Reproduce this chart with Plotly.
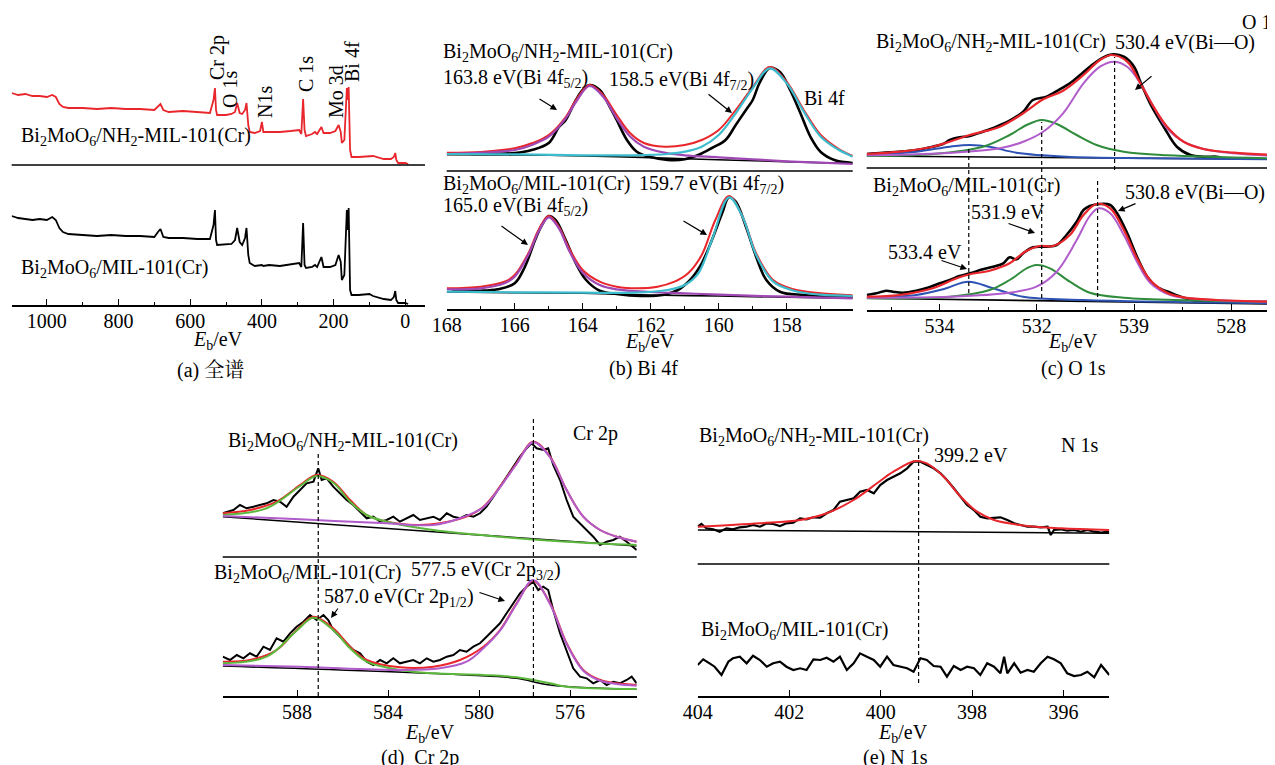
import plotly.graph_objects as go

# ======================= DATA =======================
# (a) survey spectra
survey_ev = [1098, 1080, 1060, 1040, 1020, 1000, 985, 975, 965, 955, 940, 900, 860, 820, 780, 740, 700,
             690, 683, 675, 660, 620, 580, 545, 535, 531, 528, 525, 500, 485, 475, 469, 462, 455, 447,
             443, 438, 434, 420, 405, 400, 396, 380, 350, 320, 296, 290, 285, 281, 277, 260, 252, 246,
             234, 228, 210, 195, 186, 180, 177, 170, 163, 160, 158, 154, 150, 130, 100, 90, 60, 40, 32,
             28, 25, 20, 0, -8]
survey_nh2 = [72, 70, 71, 69, 69, 68, 70, 68, 61, 58, 57, 57, 56, 57, 56, 56, 55,
              59, 61, 55, 53, 54, 53, 52, 65, 77, 55, 50, 50, 51, 53, 62, 52, 51, 55,
              62, 40, 33, 32, 34, 43, 33, 33, 33, 34, 35, 31, 66, 35, 29, 31, 33, 31,
              38, 32, 32, 34, 40, 33, 22, 25, 77, 65, 78, 15, 8, 8, 9, 9, 6, 6, 8,
              12, 5, 2, 2, 1]
survey_mil = [89, 87, 86, 85, 86, 85, 88, 85, 77, 73, 71, 70, 69, 70, 69, 69, 68,
              73, 76, 68, 67, 67, 66, 66, 80, 95, 65, 60, 61, 61, 65, 77, 63, 60, 67,
              77, 50, 42, 39, 40, 40, 39, 40, 39, 41, 42, 38, 82, 40, 37, 38, 40, 38,
              48, 38, 38, 40, 50, 43, 25, 30, 95, 75, 97, 15, 10, 10, 11, 9, 6, 5, 8,
              14, 5, 2, 2, 1]
survey_peaks = ["Cr 2p", "O 1s", "N1s", "C 1s", "Mo 3d", "Bi 4f"]

# (b) Bi 4f  -- NH2 sample (upper)
bi_nh2_ev = [167.85, 167, 166, 165.5, 165, 164.7, 164.5, 164.2, 164, 163.8, 163.5, 163.2, 163, 162.7,
             162.4, 162, 161.5, 161, 160.6, 160.2, 159.8, 159.5, 159.2, 159, 158.8, 158.5, 158.2,
             157.9, 157.6, 157.3, 157, 156.6, 156.06]
bi_nh2_raw = [18.7, 18, 19, 22, 29, 45, 52, 72, 82, 87, 82, 65, 52, 32, 20, 15, 12, 12.7, 17, 24, 32,
              47, 62, 72, 89, 104, 100, 82, 59, 35, 20, 12, 9]
bi_nh2_fit_ev = [168, 167, 166, 165.5, 165, 164.5, 164.2, 163.8, 163.4, 163, 162.6, 162.2, 161.6, 161,
                 160.5, 160, 159.5, 159, 158.5, 158, 157.5, 157, 156.5, 156.06]
bi_nh2_fit = [19.3, 20, 23.7, 28.7, 37, 55, 72, 87, 77, 57, 38.7, 29, 25.3, 27, 32, 42, 62, 85, 105,
              90, 62, 37, 23.7, 16]
bi_nh2_52_ev = [168, 166, 165.5, 165, 164.5, 164.2, 163.8, 163.4, 163, 162.6, 162.2, 161.6, 161, 160,
                159, 158, 157, 156.06]
bi_nh2_52 = [18, 22, 27, 35.3, 53.7, 70, 86, 75.3, 53.7, 35.3, 25.3, 19.3, 16.7, 14.7, 12.7, 10.7,
             9.3, 8]
bi_nh2_72_ev = [168, 166, 164, 162.5, 161.5, 161, 160.5, 160, 159.5, 159, 158.5, 158, 157.5, 157,
                156.5, 156.06]
bi_nh2_72 = [18, 17.7, 16.7, 16.7, 18, 20.3, 25.3, 37, 58.7, 83.7, 103.7, 88.7, 60.3, 35.3, 22.7, 15.3]
bi_nh2_bg_ev = [168, 165, 163, 161, 159, 157, 156.06]
bi_nh2_bg = [17.3, 16.7, 15.3, 13.3, 11.3, 9.3, 8.7]

# (b) Bi 4f  -- MIL sample (lower)
bi_mil_ev = [167.85, 167, 166.5, 166, 165.7, 165.4, 165.2, 165, 164.8, 164.5, 164.2, 163.9, 163.5,
             163, 162.3, 161.6, 161.2, 160.8, 160.5, 160.2, 159.9, 159.7, 159.5, 159.2, 158.9,
             158.6, 158.2, 157.5, 156.06]
bi_mil_raw = [12, 11.3, 12.7, 18.7, 35.3, 62, 77, 86, 82, 62, 38.7, 22, 11.3, 8, 6, 7.3, 12, 23.7,
              38.7, 62, 88.7, 104.7, 100.3, 75.3, 45.3, 22, 10.3, 7, 5.3]
bi_mil_fit_ev = [168, 167, 166.3, 166, 165.6, 165.3, 165, 164.7, 164.4, 164, 163.5, 163, 162.4,
                 161.8, 161.3, 160.9, 160.5, 160.1, 159.7, 159.3, 158.9, 158.4, 157.8, 157, 156.06]
bi_mil_fit = [13.7, 15.3, 20.3, 27, 48.7, 72, 86, 75.3, 53.7, 32, 20.3, 15.3, 13.7, 15.3, 20.3, 28.7,
              47, 82, 106, 85.3, 48.7, 22, 12.7, 8.7, 6.7]
bi_mil_52_ev = [168, 167, 166.3, 166, 165.6, 165.3, 165, 164.7, 164.4, 164, 163.5, 163, 162, 161,
                160, 158, 156.06]
bi_mil_52 = [12.7, 13.7, 18.7, 25.3, 47, 70.3, 84.7, 73.7, 51.3, 29.3, 17, 12.7, 10, 8.7, 7.3, 5.3, 3.7]
bi_mil_72_ev = [168, 166, 164, 162.5, 161.5, 161, 160.6, 160.2, 159.7, 159.3, 158.9, 158.4, 157.8,
                157, 156.06]
bi_mil_72 = [10.3, 9.7, 9.3, 9.3, 12, 17, 28.7, 62, 104.7, 85.3, 47, 20.3, 11.3, 7.3, 6]
bi_mil_bg_ev = [168, 164, 162, 160, 158, 156.06]
bi_mil_bg = [10, 8.7, 7, 6, 4.7, 3.7]

# (c) O 1s -- NH2 sample (upper)
o_nh2_ev = [535.5, 535.17, 534.82, 534.48, 534.14, 533.93, 533.79, 533.59, 533.38, 533.11, 532.83,
            532.56, 532.28, 532.08, 531.80, 531.53, 531.32, 531.11, 530.91, 530.63, 530.42, 530.21,
            530.00, 529.87, 529.67, 529.39, 529.12, 528.84, 528.57, 528.30, 528.23]
o_nh2_raw = [14, 15.3, 16.3, 18, 21.3, 24, 28, 30.7, 32, 36.3, 41.3, 47.3, 56.3, 68, 71.3, 78.7,
             84.7, 93, 101.3, 110.7, 113.7, 111.3, 101.3, 86.3, 64.7, 41.3, 21.3, 13, 11.3, 11.3, 10.7]
o_nh2_fit_ev = [535.5, 534.82, 534.14, 533.38, 532.76, 532.28, 531.87, 531.46, 531.04, 530.70,
                530.46, 530.14, 529.87, 529.60, 529.32, 528.98, 528.57, 527.95, 527.1]
o_nh2_fit = [14, 16.3, 21.3, 33, 41.3, 54.7, 68.7, 77.3, 93, 108, 113, 106.3, 84.7, 61.3, 41.3, 26.3,
             19, 15.3, 13]
o_nh2_bio_ev = [535.5, 534.48, 533.45, 532.76, 532.28, 531.87, 531.46, 531.04, 530.70, 530.42,
                530.14, 529.87, 529.60, 529.32, 528.98, 528.57, 527.95, 527.1]
o_nh2_bio = [12.7, 13.7, 16.3, 19.7, 26.3, 36.3, 54.7, 84.7, 101.3, 106.3, 101.3, 84.7, 61.3, 39.7,
             26.3, 19, 14.7, 12]
o_nh2_oh_ev = [535.5, 534.14, 533.11, 532.56, 532.21, 531.90, 531.59, 531.18, 530.77, 530.21,
               529.32, 527.1]
o_nh2_oh = [12, 14, 21.3, 33, 43, 48, 44, 33, 23, 16.3, 12.7, 9.7]
o_nh2_h2o_ev = [535.5, 534.48, 533.79, 533.38, 532.97, 532.42, 531.39, 529.67, 527.1]
o_nh2_h2o = [13, 16.3, 21.3, 23, 21.3, 15.3, 11.3, 9.7, 8.7]
o_nh2_bg_ev = [535.5, 527.1]
o_nh2_bg = [12, 8.7]

# (c) O 1s -- MIL sample (lower)
o_mil_ev = [535.5, 535.30, 535.10, 534.96, 534.76, 534.48, 534.21, 534.00, 533.79, 533.59, 533.38,
            533.11, 532.90, 532.69, 532.56, 532.42, 532.28, 532.08, 531.80, 531.59, 531.39, 531.18,
            531.04, 530.91, 530.70, 530.49, 530.35, 530.14, 529.94, 529.73, 529.53, 529.25, 528.98,
            528.64, 528.36]
o_mil_raw = [15, 16.7, 19.3, 18.3, 17.3, 19.3, 22.7, 26.7, 30, 34, 36.7, 40.7, 43.3, 46.7, 52.7,
             50.7, 56.7, 62.7, 63.3, 65, 75, 88.3, 100, 104, 106, 105, 96.7, 76.7, 53.3, 33.3, 23.3,
             17.3, 12.3, 8.3, 8.3]
o_mil_fit_ev = [535.5, 534.82, 534.14, 533.65, 533.38, 532.97, 532.56, 532.21, 531.94, 531.66,
                531.32, 531.04, 530.77, 530.49, 530.21, 529.94, 529.67, 529.32, 528.98, 528.30, 527.1]
o_mil_fit = [13.3, 15, 21.7, 31.7, 35.7, 39.3, 46.7, 59.3, 64, 64, 75, 95, 106, 101.7, 80, 51.7, 30,
             17.3, 12.7, 10, 8.3]
o_mil_bio_ev = [535.5, 533.79, 532.56, 532.01, 531.59, 531.18, 530.91, 530.73, 530.49, 530.21,
                529.94, 529.67, 529.25, 528.64, 527.1]
o_mil_bio = [12.3, 13.3, 17.3, 23.3, 38.3, 70, 94, 101.7, 96.7, 75, 48.3, 27.3, 15, 10.7, 8.3]
o_mil_oh_ev = [535.5, 533.79, 532.97, 532.56, 532.21, 532.01, 531.73, 531.32, 530.91, 530.21, 527.1]
o_mil_oh = [11.7, 13.3, 20, 30, 41.7, 45, 41.7, 28.3, 17.3, 12.3, 8.3]
o_mil_h2o_ev = [535.5, 534.48, 533.93, 533.41, 532.90, 532.28, 531.04, 527.1]
o_mil_h2o = [12.3, 15, 20.7, 28.3, 21.7, 13.3, 10, 6.7]
o_mil_bg_ev = [535.5, 527.1]
o_mil_bg = [11.7, 6]
o_dash_nh2 = [530.4]
o_dash_mil = [533.4, 531.9, 530.75]

# (d) Cr 2p -- NH2 sample (upper)
cr_nh2_ev = [591.27, 590.80, 590.51, 590.22, 589.92, 589.63, 589.34, 589.04, 588.75, 588.46,
             588.16, 587.87, 587.58, 587.28, 587.07, 586.92, 586.70, 586.41, 586.11, 585.82,
             585.53, 585.23, 584.94, 584.65, 584.35, 584.06, 583.77, 583.48, 583.18, 582.89,
             582.60, 582.30, 582.01, 581.72, 581.42, 581.13, 580.84, 580.55, 580.25, 579.96,
             579.67, 579.37, 579.08, 578.79, 578.49, 578.20, 577.91, 577.69, 577.47, 577.18,
             576.96, 576.74, 576.44, 576.15, 575.86, 575.56, 575.27, 574.98, 574.68, 574.39,
             574.10, 573.81, 573.51, 573.22, 573.07]
cr_nh2_raw = [43.7, 47, 52, 48.7, 50.3, 52, 53.7, 57, 55.3, 50.3,
              60.3, 67, 73.7, 75.3, 88.7, 77, 78.7, 70.3, 63.7, 57,
              52, 45.3, 38.7, 40.3, 35.3, 37, 40.3, 35.3, 38.7, 42,
              37, 38.7, 40.3, 37, 43.7, 40.3, 38.7, 42, 40.3, 43.7,
              50.3, 60.3, 70.3, 80.3, 90.3, 100.3, 108.7, 113.7, 108.7, 107,
              108.7, 92, 77, 57, 40.3, 33.7, 27, 20.3, 12, 15.3,
              17, 20.3, 15.3, 10.3, 7]
cr_nh2_fit_ev = [591.27, 590.07, 588.90, 587.87, 587.14, 586.41, 585.67, 584.94, 584.06, 582.74,
                 581.72, 580.55, 579.81, 579.08, 578.35, 577.62, 576.88, 576.15, 575.42, 574.68,
                 573.95, 573.07]
cr_nh2_fit = [43.7, 47, 55.3, 72, 82, 75.3, 57, 42, 35.3, 32, 33.7, 40.3, 50.3, 70.3, 93.7, 115.3,
              100.3, 67, 40.3, 27, 20.3, 15.3]
cr_nh2_12_ev = [591.27, 589.34, 587.87, 587.14, 586.41, 585.67, 584.94, 584.06, 582.01, 579.08,
                576.15, 573.07]
cr_nh2_12 = [42, 48.7, 71, 81, 74.3, 55.3, 42, 35.3, 27, 20.3, 15.3, 12]
cr_nh2_32_ev = [591.27, 587.87, 584.06, 582.01, 580.84, 579.81, 579.08, 578.35, 577.62, 576.88,
                576.15, 575.42, 574.68, 573.95, 573.07]
cr_nh2_32 = [41, 37.7, 33.7, 32, 38.7, 49.7, 69.7, 93, 114.7, 99.7, 67, 40.3, 27, 20.3, 15.3]
cr_nh2_bg_ev = [591.27, 582.01, 573.07]
cr_nh2_bg = [40.3, 25.3, 11]

# (d) Cr 2p -- MIL sample (lower)
cr_mil_ev = [591.27, 590.95, 590.65, 590.36, 590.07, 589.78, 589.48, 589.19, 588.90, 588.60,
             588.31, 588.02, 587.72, 587.43, 587.14, 586.84, 586.63, 586.41, 586.11, 585.82,
             585.53, 585.23, 584.94, 584.65, 584.35, 584.06, 583.77, 583.48, 583.18, 582.89,
             582.60, 582.30, 582.01, 581.72, 581.42, 581.13, 580.84, 580.55, 580.25, 579.96,
             579.67, 579.37, 579.08, 578.79, 578.49, 578.20, 577.91, 577.62, 577.40, 577.18,
             576.96, 576.74, 576.44, 576.15, 575.86, 575.56, 575.27, 574.98, 574.68, 574.39,
             574.10, 573.81, 573.51, 573.29, 573.07]
cr_mil_raw = [38.3, 35, 40, 36.7, 41.7, 38.3, 48.3, 45, 56.7, 53.3,
              61.7, 68.3, 73.3, 80, 75, 80, 75, 65, 58.3, 51.7,
              45, 41.7, 33.3, 30, 35, 31.7, 36.7, 31.7, 33.3, 35,
              31.7, 36.7, 33.3, 35, 38.3, 40, 45, 43.3, 48.3, 51.7,
              58.3, 65, 71.7, 81.7, 91.7, 101.7, 108.3, 113.3, 105, 108.3,
              105, 85, 61.7, 45, 26.7, 18.3, 16.7, 11.7, 15, 10,
              13.3, 11.7, 15, 18.3, 11.7]
cr_mil_fit_ev = [591.27, 590.07, 588.90, 588.02, 587.28, 586.41, 585.67, 584.94, 583.48, 582.01,
                 580.84, 579.81, 579.08, 578.35, 577.62, 576.88, 576.15, 575.42, 574.68, 573.95,
                 573.07]
cr_mil_fit = [33.3, 35, 45, 65, 78.3, 66.7, 48.3, 35, 27.7, 28.3, 35, 48.3, 65, 91.7, 114.3, 91.7,
              51.7, 25, 15, 11.7, 10]
cr_mil_12_ev = [591.27, 589.34, 588.02, 587.28, 586.41, 585.67, 584.94, 583.48, 582.01, 579.81,
                578.35, 576.88, 576.15, 573.07]
cr_mil_12 = [31.7, 38.3, 64.3, 77.3, 65, 46.7, 33.3, 25, 21.7, 20, 17.7, 11.7, 8.3, 6]
cr_mil_32_ev = [591.27, 587.87, 583.48, 581.72, 580.55, 579.81, 579.08, 578.35, 577.62, 576.88,
                576.15, 575.42, 574.68, 573.95, 573.07]
cr_mil_32 = [30, 28.3, 25, 26.7, 33.3, 46.7, 64.3, 91, 115, 91, 51, 24.3, 14.3, 11, 9.3]
cr_mil_bg_ev = [591.27, 580.55, 578.35, 576.88, 573.07]
cr_mil_bg = [29, 20, 16.7, 10, 5.7]
cr_dash = [587.07, 577.61]

# (e) N 1s
n_nh2_ev = [404.0, 403.92, 403.81, 403.66, 403.52, 403.37, 403.23, 403.08, 402.93, 402.79,
            402.64, 402.49, 402.35, 402.20, 402.06, 401.91, 401.76, 401.62, 401.47, 401.32,
            401.18, 401.03, 400.89, 400.74, 400.59, 400.45, 400.30, 400.15, 400.01, 399.86,
            399.72, 399.57, 399.42, 399.28, 399.13, 398.99, 398.84, 398.69, 398.55, 398.40,
            398.25, 398.11, 397.96, 397.82, 397.67, 397.52, 397.38, 397.23, 397.08, 396.94,
            396.79, 396.65, 396.50, 396.35, 396.28, 396.21, 396.06, 395.92, 395.77, 395.62,
            395.48, 395.33, 395.18, 395.0]
n_nh2_raw = [37.3, 40, 35.7, 34.7, 32.3, 35.7, 34.7, 36.7, 37.3, 39,
             37.3, 40.7, 40, 38, 40.7, 41.3, 45.7, 44.7, 46.7, 46.3,
             50.7, 54, 62.3, 64, 65.7, 72.3, 74, 70.7, 79, 84,
             87.3, 90.7, 95.7, 102.3, 102.3, 99, 95.7, 90.7, 84, 75.7,
             67.3, 59, 54, 47.3, 45.7, 46.3, 46.7, 44, 40.7, 39,
             37.3, 37.3, 36.7, 37.3, 29, 34, 34.7, 33.3, 34, 32.3,
             34, 32.3, 31.3, 32.3]
n_nh2_fit_ev = [404.0, 402.64, 401.76, 401.18, 400.59, 400.08, 399.72, 399.24, 398.99, 398.62,
                398.25, 397.89, 397.52, 396.79, 396.06, 395.0]
n_nh2_fit = [37.3, 40.7, 44, 50.7, 64, 80.7, 92.3, 103, 100.7, 87.3, 67.3, 52.3, 44, 38, 35.7, 34]
n_nh2_bg_ev = [404.0, 395.0]
n_nh2_bg = [34, 30.7]
n_mil_ev = [404.0, 403.88, 403.74, 403.63, 403.48, 403.33, 403.23, 403.08, 402.93, 402.79,
            402.64, 402.49, 402.35, 402.20, 402.06, 401.91, 401.76, 401.62, 401.47, 401.32,
            401.18, 401.03, 400.89, 400.74, 400.59, 400.45, 400.30, 400.15, 400.01, 399.86,
            399.72, 399.57, 399.42, 399.28, 399.13, 398.99, 398.84, 398.69, 398.55, 398.40,
            398.25, 398.11, 397.96, 397.82, 397.67, 397.52, 397.38, 397.30, 397.23, 397.08,
            396.94, 396.79, 396.65, 396.50, 396.35, 396.21, 396.06, 395.92, 395.77, 395.62,
            395.48, 395.33, 395.18, 395.0]
n_mil_raw = [30, 35.7, 31.7, 28.3, 20, 33.3, 36.7, 38.3, 31.7, 39.3,
             35, 28.3, 31.7, 33.3, 28.3, 25, 26.7, 25, 35.7, 35,
             37.3, 33.3, 38.3, 25, 31.7, 41.7, 38.3, 35, 28.3, 38.3,
             30, 28.3, 26.7, 23.3, 36.7, 35, 29, 28.3, 18.3, 29,
             25, 28.3, 26.7, 20, 31.7, 28.3, 21.7, 38.3, 21.7, 31.7,
             22.3, 25, 23.3, 31.7, 38.3, 35.7, 31.7, 21.7, 19, 20,
             23.3, 17.7, 30, 20]
n_dash = [399.17]

# tick labels
ticks_a = [1000, 800, 600, 400, 200, 0]
ticks_b = [168, 166, 164, 162, 160, 158]
ticks_c = [534, 532, 530, 528]
ticklabels_c = ["534", "532", "539", "528"]
ticks_d = [588, 584, 580, 576]
ticks_e = [404, 402, 400, 398, 396]

S_NH2 = "Bi<sub>2</sub>MoO<sub>6</sub>/NH<sub>2</sub>-MIL-101(Cr)"
S_MIL = "Bi<sub>2</sub>MoO<sub>6</sub>/MIL-101(Cr)"
EB = "<i>E</i><sub>b</sub>/eV"

# ======================= FIGURE =======================
# the page body has an 8px margin; all positions below are given in window pixels
OFF = 8
W, H = 1275 - OFF, 765 - OFF
FONT = "Liberation Serif, Noto Serif CJK SC, Noto Sans CJK SC, serif"
FS = 20

RED = "#e8262b"
MAG = "#9f47b3"
CYAN = "#3cbccc"
PURP = "#b15ccb"
GREEN_C = "#2f8c3c"
BLUE = "#2d52b3"
GREEN_D = "#5cb83c"

fig = go.Figure()


def add(x, y, xa, ya, color, width=2.0, shape="spline"):
    fig.add_trace(go.Scatter(
        x=x, y=y, xaxis=xa, yaxis=ya, mode="lines",
        line=dict(color=color, width=width, shape=shape,
                  smoothing=1.0 if shape == "spline" else None),
        hoverinfo="skip", showlegend=False))


# (a)
add(survey_ev, survey_nh2, "x", "y2", RED, 1.8, "linear")
add(survey_ev, survey_mil, "x", "y", "black", 1.8, "linear")

# (b)
add(bi_nh2_bg_ev, bi_nh2_bg, "x2", "y4", "black", 1.6)
add(bi_nh2_ev, bi_nh2_raw, "x2", "y4", "black", 2.6)
add(bi_nh2_fit_ev, bi_nh2_fit, "x2", "y4", RED, 2.0)
add(bi_nh2_52_ev, bi_nh2_52, "x2", "y4", MAG, 2.2)
add(bi_nh2_72_ev, bi_nh2_72, "x2", "y4", CYAN, 2.2)
add(bi_mil_bg_ev, bi_mil_bg, "x2", "y3", "black", 1.6)
add(bi_mil_ev, bi_mil_raw, "x2", "y3", "black", 2.6)
add(bi_mil_fit_ev, bi_mil_fit, "x2", "y3", RED, 2.0)
add(bi_mil_52_ev, bi_mil_52, "x2", "y3", MAG, 2.2)
add(bi_mil_72_ev, bi_mil_72, "x2", "y3", CYAN, 2.2)

# (c)
add(o_nh2_bg_ev, o_nh2_bg, "x3", "y6", "black", 1.6)
add(o_nh2_ev, o_nh2_raw, "x3", "y6", "black", 2.6)
add(o_nh2_h2o_ev, o_nh2_h2o, "x3", "y6", BLUE, 2.0)
add(o_nh2_oh_ev, o_nh2_oh, "x3", "y6", GREEN_C, 2.0)
add(o_nh2_bio_ev, o_nh2_bio, "x3", "y6", PURP, 2.0)
add(o_nh2_fit_ev, o_nh2_fit, "x3", "y6", RED, 2.2)
add(o_mil_bg_ev, o_mil_bg, "x3", "y5", "black", 1.6)
add(o_mil_ev, o_mil_raw, "x3", "y5", "black", 2.6)
add(o_mil_h2o_ev, o_mil_h2o, "x3", "y5", BLUE, 2.0)
add(o_mil_oh_ev, o_mil_oh, "x3", "y5", GREEN_C, 2.0)
add(o_mil_bio_ev, o_mil_bio, "x3", "y5", PURP, 2.0)
add(o_mil_fit_ev, o_mil_fit, "x3", "y5", RED, 2.2)

# (d)
add(cr_nh2_bg_ev, cr_nh2_bg, "x4", "y8", "black", 1.6)
add(cr_nh2_ev, cr_nh2_raw, "x4", "y8", "black", 2.0, "linear")
add(cr_nh2_fit_ev, cr_nh2_fit, "x4", "y8", RED, 2.0)
add(cr_nh2_12_ev, cr_nh2_12, "x4", "y8", GREEN_D, 2.0)
add(cr_nh2_32_ev, cr_nh2_32, "x4", "y8", PURP, 2.0)
add(cr_mil_bg_ev, cr_mil_bg, "x4", "y7", "black", 1.6)
add(cr_mil_ev, cr_mil_raw, "x4", "y7", "black", 2.0, "linear")
add(cr_mil_fit_ev, cr_mil_fit, "x4", "y7", RED, 2.0)
add(cr_mil_12_ev, cr_mil_12, "x4", "y7", GREEN_D, 2.0)
add(cr_mil_32_ev, cr_mil_32, "x4", "y7", PURP, 2.0)

# (e)
add(n_nh2_bg_ev, n_nh2_bg, "x5", "y10", "black", 1.6)
add(n_nh2_ev, n_nh2_raw, "x5", "y10", "black", 2.2, "linear")
add(n_nh2_fit_ev, n_nh2_fit, "x5", "y10", RED, 2.0)
add(n_mil_ev, n_mil_raw, "x5", "y9", "black", 2.2, "linear")


# ---------------- axes ----------------
def fx(p):
    return (p - OFF) / W


def fy(p):
    return 1 - (p - OFF) / H


def xdom(p0, p1):
    return [max(fx(p0), 0.0), min(fx(p1), 1.0)]


def ydom(bottom, top):
    return [fy(bottom), fy(top)]


def xax(dom, rng, tv, tt=None, minor=None, anchor="y"):
    d = dict(domain=dom, range=rng, anchor=anchor, showline=True, linecolor="black",
             linewidth=1.5, showgrid=False, zeroline=False, ticks="inside", ticklen=6,
             tickwidth=1.3, tickcolor="black", tickmode="array", tickvals=tv,
             ticktext=tt if tt else [str(v) for v in tv], ticklabelstandoff=-3,
             automargin=False,
             tickfont=dict(family=FONT, size=FS, color="black"), fixedrange=True)
    if minor:
        d["minor"] = dict(tickmode="array", tickvals=minor, ticks="inside", ticklen=3,
                          tickwidth=1.2, tickcolor="black")
    return d


def yax(dom, rng, anchor):
    return dict(domain=dom, range=rng, anchor=anchor, visible=False, fixedrange=True,
                automargin=False)


layout = dict(
    width=W, height=H, margin=dict(l=0, r=0, t=0, b=0, pad=0, autoexpand=False), autosize=False,
    paper_bgcolor="white", plot_bgcolor="white", showlegend=False,
    xaxis=xax(xdom(11.7, 425), [1098, -55], ticks_a, minor=[900, 700, 500, 300, 100], anchor="y"),
    yaxis=yax(ydom(305, 165), [0, 140], "x"),
    yaxis2=yax(ydom(165, 25), [0, 140], "x"),
    xaxis2=xax(xdom(446.7, 852.7), [168, 156.06], ticks_b,
               minor=[167, 165, 163, 161, 159, 157], anchor="y3"),
    yaxis3=yax(ydom(309, 171), [-7, 131], "x2"),
    yaxis4=yax(ydom(171, 31), [1, 141], "x2"),
    xaxis3=xax(xdom(866.7, 1275), [535.5, 527.1], ticks_c, ticklabels_c,
               minor=[535, 533, 531, 529], anchor="y5"),
    yaxis5=yax(ydom(310, 168), [0, 142], "x3"),
    yaxis6=yax(ydom(168, 28), [0, 140], "x3"),
    xaxis4=xax(xdom(222.7, 636.7), [591.27, 573.07], ticks_d, anchor="y7"),
    yaxis7=yax(ydom(696, 557), [-1, 138], "x4"),
    yaxis8=yax(ydom(557, 417), [0, 140], "x4"),
    xaxis5=xax(xdom(697.7, 1109.3), [404.0, 395.0], ticks_e, anchor="y9"),
    yaxis9=yax(ydom(696, 564), [-1, 131], "x5"),
    yaxis10=yax(ydom(564, 424), [0, 140], "x5"),
)
fig.update_layout(**layout)

# ---------------- shapes: separators and dashed guides ----------------
shapes = []
for xa, sep in [("x", 165), ("x2", 171), ("x3", 168), ("x4", 557), ("x5", 564)]:
    shapes.append(dict(type="line", xref=xa + " domain", yref="paper", x0=0, x1=1,
                       y0=fy(sep), y1=fy(sep), line=dict(color="black", width=1.5)))


def vdash(xa, xv, ptop, pbot):
    shapes.append(dict(type="line", xref=xa, yref="paper", x0=xv, x1=xv,
                       y0=fy(pbot), y1=fy(ptop),
                       line=dict(color="black", width=1.2, dash="4px,3px")))


vdash("x3", o_dash_nh2[0], 57, 170)
vdash("x3", o_dash_mil[0], 147, 293)
vdash("x3", o_dash_mil[1], 122, 298)
vdash("x3", o_dash_mil[2], 180, 297)
vdash("x4", cr_dash[0], 452, 696)
vdash("x4", cr_dash[1], 418, 696)
vdash("x5", n_dash[0], 445, 683)
fig.update_layout(shapes=shapes)


# ---------------- text ----------------
def txt(s, xp, yp, anchor="left", size=FS, angle=0):
    fig.add_annotation(text=s, x=fx(xp), y=fy(yp), xref="paper", yref="paper",
                       xanchor=anchor, yanchor="middle", showarrow=False, textangle=angle,
                       font=dict(family=FONT, size=size, color="black"))


def arrow(tail, head):
    fig.add_annotation(text="", x=fx(head[0]), y=fy(head[1]), xref="paper", yref="paper",
                       ax=tail[0] - head[0], ay=tail[1] - head[1], axref="pixel", ayref="pixel",
                       showarrow=True, arrowhead=2, arrowsize=1.1, arrowwidth=1.2,
                       arrowcolor="black")


# (a)
for lab, (xp, yp) in zip(survey_peaks, [(218, 58), (230, 89), (265, 102), (306, 74), (336, 91), (352, 62)]):
    txt(lab, xp, yp, "center", FS, -90)
txt(S_NH2, 19, 137)
txt(S_MIL, 19, 268)
txt(EB, 218, 341, "center")
txt("(a) 全谱", 210, 370, "center")

# (b)
txt(S_NH2, 441, 53)
txt("163.8 eV(Bi 4f<sub>5/2</sub>)", 441, 78)
txt("158.5 eV(Bi 4f<sub>7/2</sub>)", 607, 80)
txt("Bi 4f", 802, 98)
txt(S_MIL, 441, 185)
txt("159.7 eV(Bi 4f<sub>7/2</sub>)", 637, 185)
txt("165.0 eV(Bi 4f<sub>5/2</sub>)", 441, 207)
arrow((538, 98), (557, 110))
arrow((707, 93), (732, 113))
arrow((500, 225), (528, 245))
arrow((682, 220), (707, 235))
txt(EB, 650, 342, "center")
txt("(b) Bi 4f", 643, 368, "center")

# (c)
txt("O 1s", 1240, 22)
txt(S_NH2, 874, 43)
txt("530.4 eV(Bi—O)", 1113, 43)
txt(S_MIL, 871, 187)
txt("530.8 eV(Bi—O)", 1123, 192)
txt("531.9 eV", 969, 212)
txt("533.4 eV", 886, 252)
arrow((1153, 75), (1135, 90))
arrow((1137, 203), (1118, 211))
arrow((1007, 223), (1035, 233))
arrow((940, 260), (967, 269))
txt(EB, 1073, 342, "center")
txt("(c) O 1s", 1073, 368, "center")

# (d)
txt("Cr 2p", 571, 433)
txt(S_NH2, 226, 442)
txt(S_MIL, 212, 573)
txt("577.5 eV(Cr 2p<sub>3/2</sub>)", 409, 570)
txt("587.0 eV(Cr 2p<sub>1/2</sub>)", 322, 597)
arrow((339, 607), (331, 618))
arrow((478, 592), (505, 601))
txt(EB, 430, 733, "center")
txt("(d)  Cr 2p", 420, 757, "center")

# (e)
txt(S_NH2, 697, 437)
txt("399.2 eV", 932, 455)
txt("N 1s", 1059, 445)
txt(S_MIL, 699, 630)
txt(EB, 903, 733, "center")
txt("(e) N 1s", 895, 757, "center")

fig.write_html("out.html")
